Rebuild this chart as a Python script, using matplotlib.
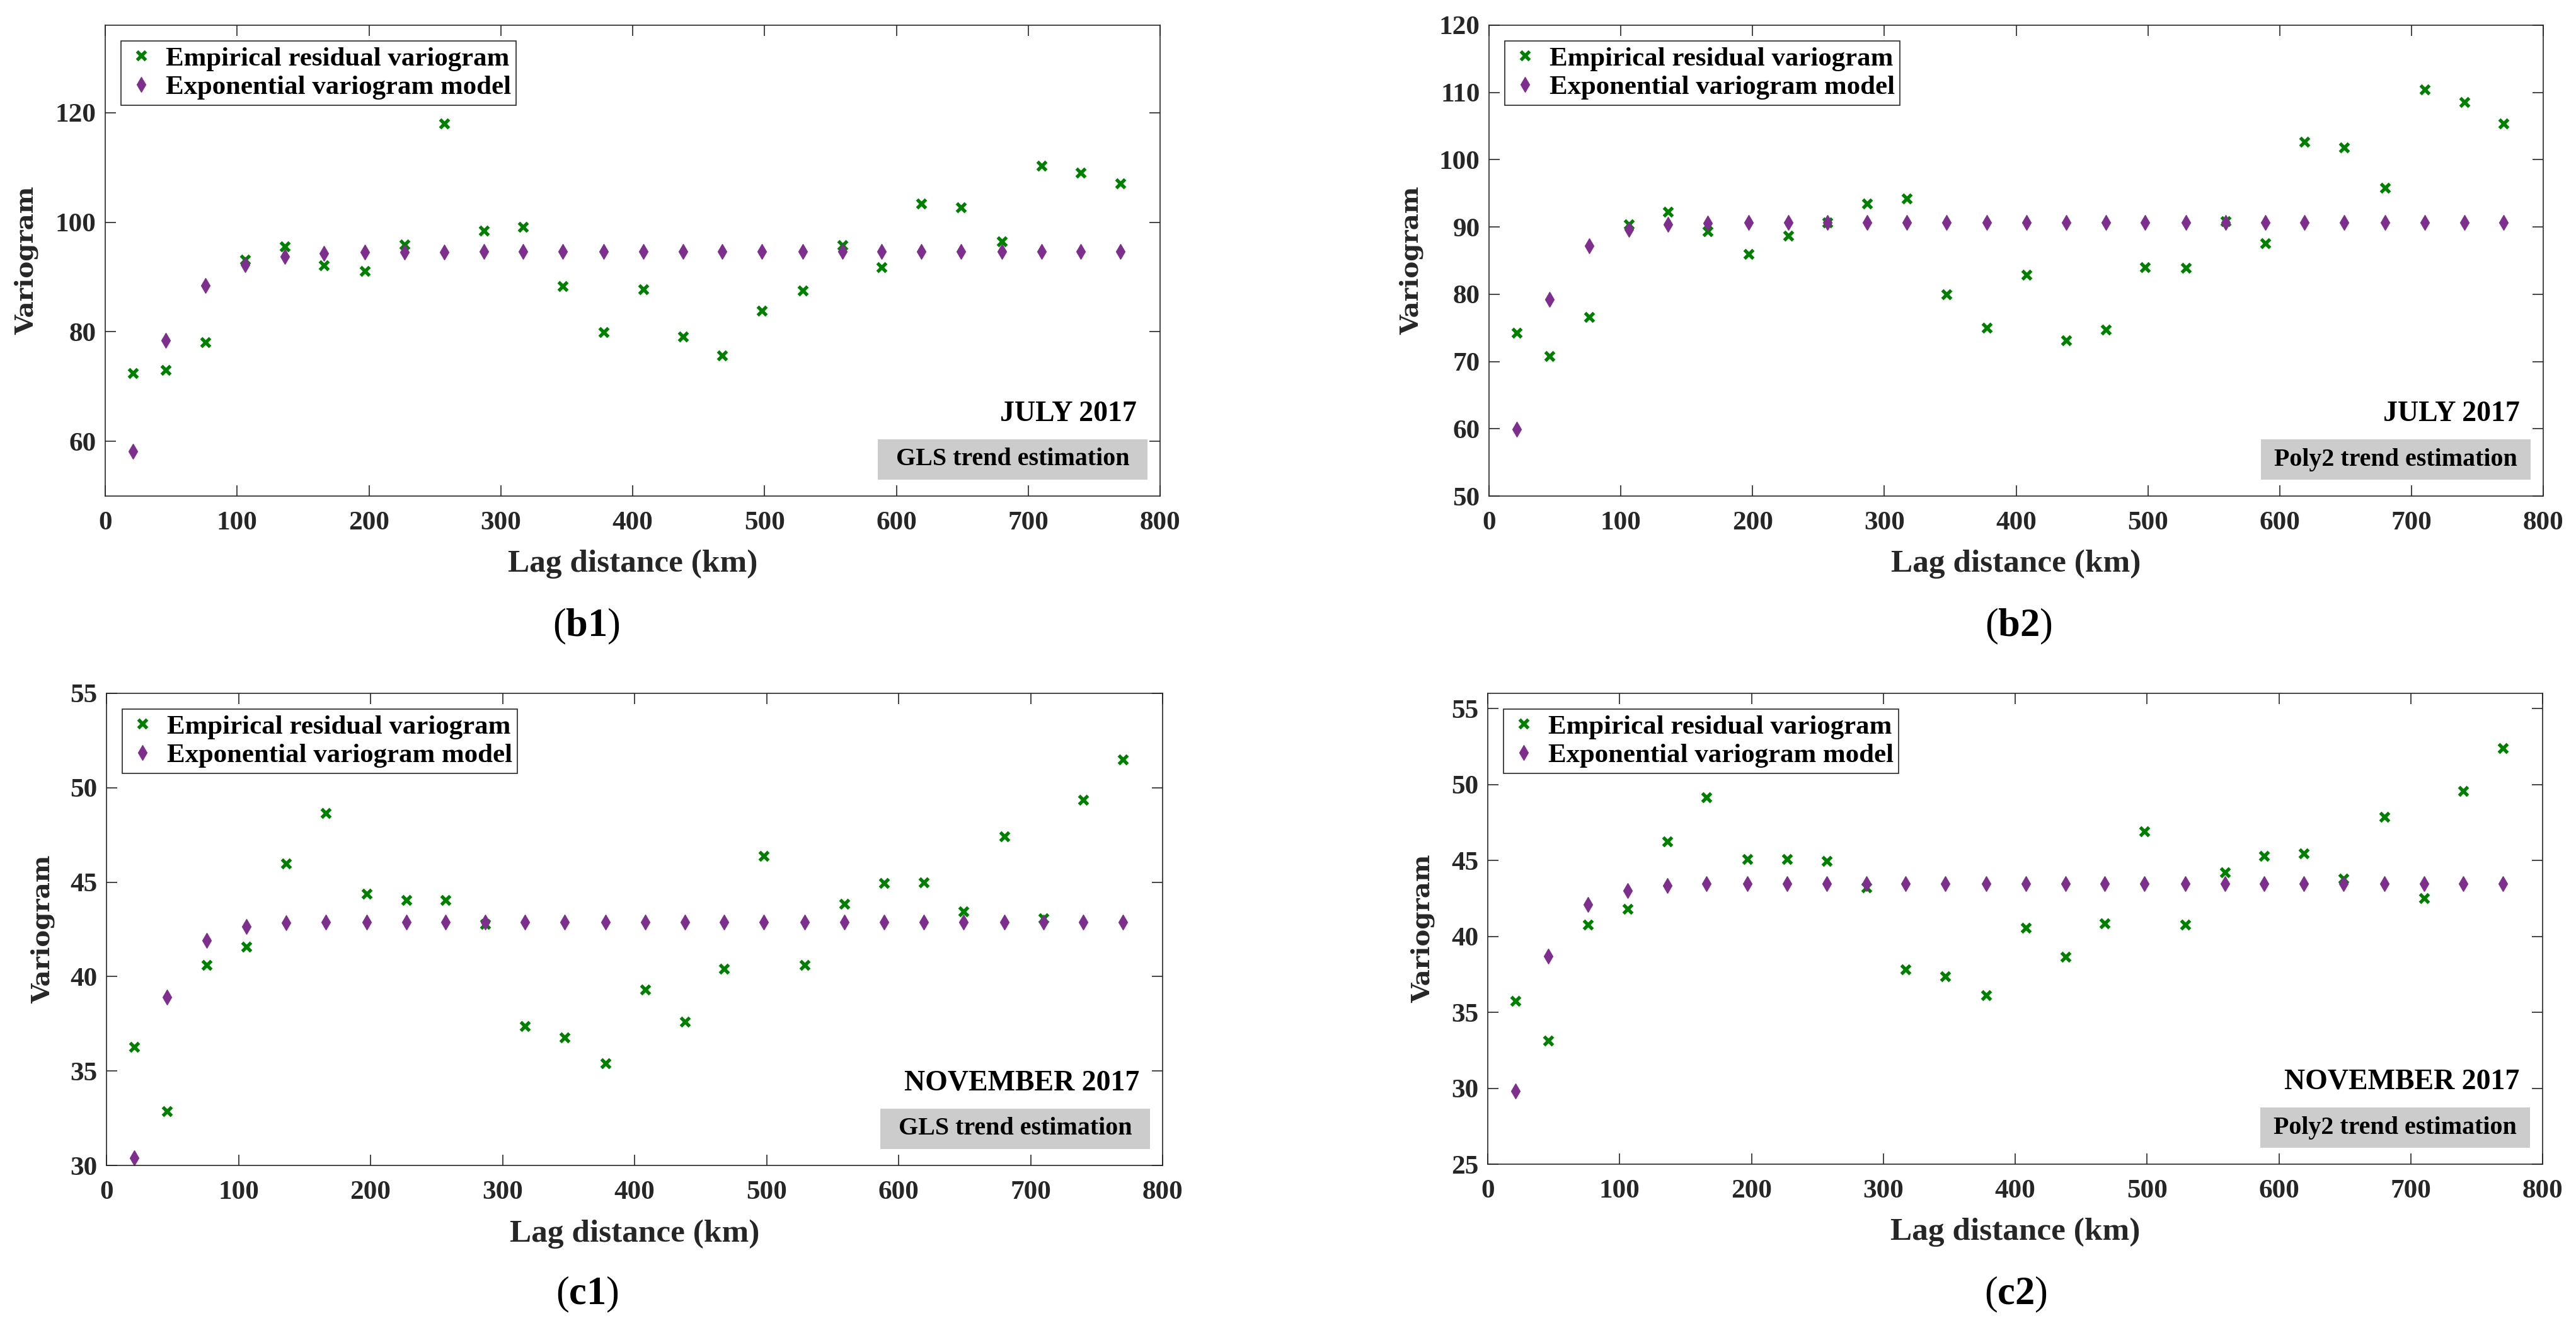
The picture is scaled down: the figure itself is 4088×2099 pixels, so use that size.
import matplotlib
matplotlib.use('Agg')
import matplotlib.pyplot as plt
from matplotlib.patches import Rectangle

plt.rcParams['font.family'] = ['Liberation Serif', 'DejaVu Serif']
plt.rcParams['mathtext.fontset'] = 'custom'
plt.rcParams['mathtext.rm'] = 'Liberation Serif'
plt.rcParams['mathtext.bf'] = 'Liberation Serif:bold'

# lag distances (km), same for every panel
lags = [21, 46, 76, 106, 136, 166, 197, 227, 257, 287, 317, 347, 378,
        408, 438, 468, 498, 529, 559, 589, 619, 649, 680, 710, 740, 770]

# (b1) July 2017, GLS trend
b1_emp = [72.4, 73.0, 78.1, 93.2, 95.6, 92.1, 91.1, 95.9, 118.0, 98.5, 99.2, 88.3, 79.9,
          87.8, 79.1, 75.7, 83.9, 87.5, 95.8, 91.8, 103.4, 102.7, 96.5, 110.3, 109.1, 107.1]
b1_mod = [58.2, 78.4, 88.4, 92.3, 93.8, 94.3, 94.5, 94.6, 94.6, 94.7, 94.7, 94.7, 94.7,
          94.7, 94.7, 94.7, 94.7, 94.7, 94.7, 94.7, 94.7, 94.7, 94.7, 94.7, 94.7, 94.7]

# (b2) July 2017, Poly2 trend
b2_emp = [74.3, 70.8, 76.6, 90.4, 92.3, 89.4, 86.0, 88.7, 90.7, 93.5, 94.2, 80.0, 75.0,
          82.9, 73.1, 74.7, 84.0, 83.9, 90.9, 87.6, 102.7, 101.8, 95.8, 110.4, 108.6, 105.4]
b2_mod = [59.9, 79.2, 87.2, 89.6, 90.4, 90.6, 90.7, 90.7, 90.7, 90.7, 90.7, 90.7, 90.7,
          90.7, 90.7, 90.7, 90.7, 90.7, 90.7, 90.7, 90.7, 90.7, 90.7, 90.7, 90.7, 90.7]

# (c1) November 2017, GLS trend
c1_emp = [36.26, 32.87, 40.6, 41.57, 46.0, 48.65, 44.38, 44.06, 44.04, 42.78, 37.37, 36.76, 35.41,
          39.32, 37.61, 40.4, 46.38, 40.6, 43.86, 44.94, 44.99, 43.46, 47.41, 43.1, 49.37, 51.48]
c1_mod = [30.4, 38.9, 41.9, 42.65, 42.85, 42.9, 42.9, 42.9, 42.9, 42.9, 42.9, 42.9, 42.9,
          42.9, 42.9, 42.9, 42.9, 42.9, 42.9, 42.9, 42.9, 42.9, 42.9, 42.9, 42.9, 42.9]

# (c2) November 2017, Poly2 trend
c2_emp = [35.73, 33.14, 40.77, 41.8, 46.24, 49.16, 45.07, 45.07, 44.96, 43.2, 37.82, 37.35, 36.12,
          40.58, 38.66, 40.86, 46.93, 40.75, 44.2, 45.29, 45.46, 43.8, 47.88, 42.5, 49.55, 52.4]
c2_mod = [29.8, 38.7, 42.1, 43.0, 43.35, 43.45, 43.45, 43.45, 43.45, 43.45, 43.45, 43.45, 43.45,
          43.45, 43.45, 43.45, 43.45, 43.45, 43.45, 43.45, 43.45, 43.45, 43.45, 43.45, 43.45, 43.45]

months = ['JULY 2017', 'JULY 2017', 'NOVEMBER 2017', 'NOVEMBER 2017']
methods = ['GLS trend estimation', 'Poly2 trend estimation',
           'GLS trend estimation', 'Poly2 trend estimation']
tags = ['b1', 'b2', 'c1', 'c2']
ylims = [(50, 136), (50, 120), (30, 55), (25, 56)]
yticks = [[60, 80, 100, 120], list(range(50, 121, 10)),
          list(range(30, 56, 5)), list(range(25, 56, 5))]

panels = [(b1_emp, b1_mod), (b2_emp, b2_mod), (c1_emp, c1_mod), (c2_emp, c2_mod)]

W, H = 4088, 2099
fig = plt.figure(figsize=(W / 300, H / 300), dpi=300)

# axes boxes in pixels: left, top, right, bottom
boxes = [(167, 40, 1841, 787), (2363, 40, 4036, 787),
         (169, 1100, 1845, 1849), (2361, 1100, 4035, 1847)]
ylab_x = [-0.0747, -0.0735, -0.06, -0.0615]
tag_pos = [(930, 994), (3203, 994), (932, 2054), (3199, 2054)]

green = '#008000'
purple = '#7E2F8E'
dark = '#262626'

for i, (emp, mod) in enumerate(panels):
    l, t, r, b = boxes[i]
    ax = fig.add_axes([l / W, 1 - b / H, (r - l) / W, (b - t) / H])
    aw, ah = r - l, b - t

    ax.plot(lags, emp, linestyle='none', marker='x', ms=3.2, mew=1.3, color=green,
            label='Empirical residual variogram')
    ax.plot(lags, mod, linestyle='none', marker='d', ms=4.2, mew=0.3, color=purple,
            label='Exponential variogram model')

    ax.set_xlim(0, 800)
    ax.set_ylim(*ylims[i])
    ax.set_xticks(range(0, 801, 100))
    ax.set_yticks(yticks[i])

    ax.tick_params(direction='in', length=4.1, width=0.4, color=dark,
                   top=True, right=True, labelsize=10.4, labelcolor=dark)
    ax.tick_params(axis='x', pad=5.8)
    ax.tick_params(axis='y', pad=3.4)
    for lab in ax.get_xticklabels() + ax.get_yticklabels():
        lab.set_fontweight('bold')
    for s in ax.spines.values():
        s.set_linewidth(0.4)
        s.set_color(dark)

    ax.set_xlabel('Lag distance (km)', fontsize=12.3, fontweight='bold', color=dark, va='center')
    ax.xaxis.set_label_coords(0.5, -0.145)
    ax.set_ylabel('Variogram', fontsize=9.7, fontweight='bold', color=dark,
                  family='DejaVu Serif', va='center', ha='center')
    ax.yaxis.set_label_coords(ylab_x[i], 0.5)

    leg = ax.legend(loc='upper left', prop={'weight': 'bold', 'size': 10.3},
                    frameon=True, fancybox=False, framealpha=1, edgecolor=dark,
                    borderaxespad=0.58, borderpad=0.2, labelspacing=0.15,
                    handlelength=1.1, handletextpad=0.35)
    leg.get_frame().set_linewidth(0.4)

    ax.text(1 - 37 / aw, 119 / ah, months[i], transform=ax.transAxes,
            ha='right', va='baseline', fontsize=11, fontweight='bold')
    ax.add_patch(Rectangle((1 - 448 / aw, 26 / ah), 428 / aw, 64 / ah,
                           transform=ax.transAxes, facecolor='#CCCCCC',
                           edgecolor='none', zorder=3))
    ax.text(1 - 234 / aw, 58 / ah, methods[i], transform=ax.transAxes,
            ha='center', va='center', fontsize=9.6, fontweight='bold', zorder=4)

    tx, ty = tag_pos[i]
    fig.text(tx / W, 1 - ty / H, '($\\mathbf{' + tags[i] + '}$)', ha='center', va='center',
             fontsize=15)

fig.savefig('out.png', dpi=300)
